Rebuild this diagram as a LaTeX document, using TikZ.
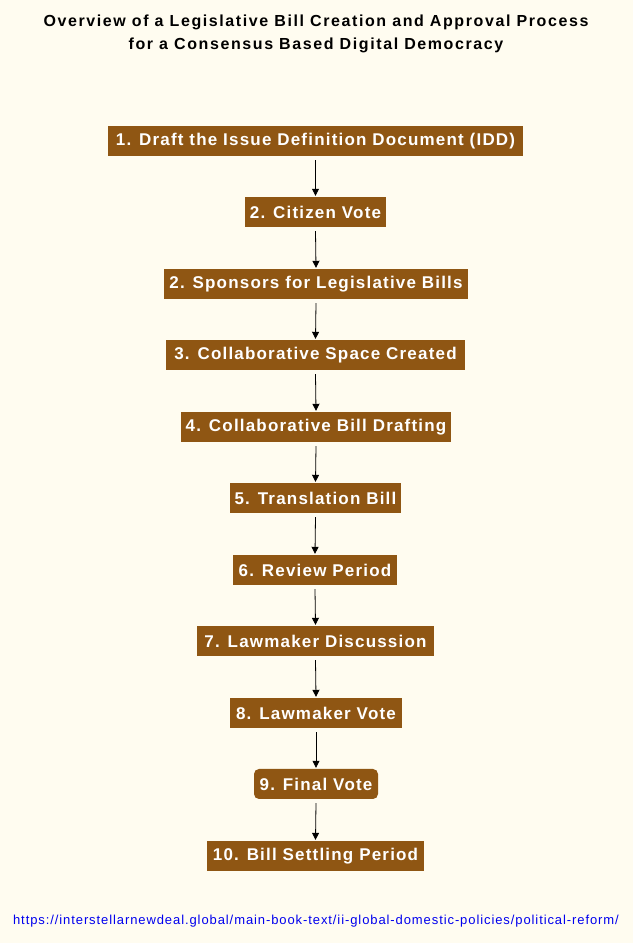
\documentclass[tikz,border=0pt]{standalone}
\usepackage{fontspec}
\setmainfont{Liberation Sans}
\newfontfamily\boxfont[LetterSpace=7]{Liberation Sans}
\newfontfamily\titlefont[LetterSpace=10]{Liberation Sans}
\newfontfamily\urlfont[LetterSpace=7]{Liberation Sans}
\usetikzlibrary{arrows.meta}
\definecolor{bg}{HTML}{FFFCF0}
\definecolor{bx}{HTML}{8F5613}
\definecolor{lnk}{HTML}{0000EE}
\begin{document}
\begin{tikzpicture}[x=1pt,y=1pt,
  stepbox/.style={fill=bx,text=white,font=\boxfont\fontsize{17}{18}\bfseries,minimum height=30pt,inner sep=0pt,anchor=center},
  arr/.style={-{Triangle[length=7pt,width=7pt]},black,line width=0.8pt}]
\fill[bg] (0,0) rectangle (633,943);
\useasboundingbox (0,0) rectangle (633,943);
\node[font=\titlefont\fontsize{16}{23}\bfseries,align=center] (title) at (316,909) {Overview of a Legislative Bill Creation and Approval Process\\for a Consensus Based Digital Democracy};
\node[stepbox,minimum width=415pt] (n1) at (315.5,802) {1. Draft the Issue Definition Document (IDD)};
\node[stepbox,minimum width=141pt] (n2) at (315.5,731) {2. Citizen Vote};
\node[stepbox,minimum width=304pt] (n3) at (316,659) {2. Sponsors for Legislative Bills};
\node[stepbox,minimum width=299pt] (n4) at (315.5,588) {3. Collaborative Space Created};
\node[stepbox,minimum width=270pt] (n5) at (316,516) {4. Collaborative Bill Drafting};
\node[stepbox,minimum width=171pt] (n6) at (315.5,445) {5. Translation Bill};
\node[stepbox,minimum width=164pt] (n7) at (315,373) {6. Review Period};
\node[stepbox,minimum width=237pt] (n8) at (315.5,302) {7. Lawmaker Discussion};
\node[stepbox,minimum width=172pt] (n9) at (316,230) {8. Lawmaker Vote};
\node[stepbox,minimum width=124pt,rounded corners=5pt] (n10) at (316,159) {9. Final Vote};
\node[stepbox,minimum width=217pt] (n11) at (315.5,87) {10. Bill Settling Period};
\foreach \a/\b in {n1/n2,n2/n3,n3/n4,n4/n5,n5/n6,n6/n7,n7/n8,n8/n9,n9/n10,n10/n11}
  \draw[arr] ([yshift=-4pt]\a.south) -- ([yshift=1pt]\b.north);
\node[text=lnk,font=\urlfont\fontsize{13}{14}\selectfont] (url) at (316,22) {https://interstellarnewdeal.global/main-book-text/ii-global-domestic-policies/political-reform/};
\end{tikzpicture}
\end{document}
